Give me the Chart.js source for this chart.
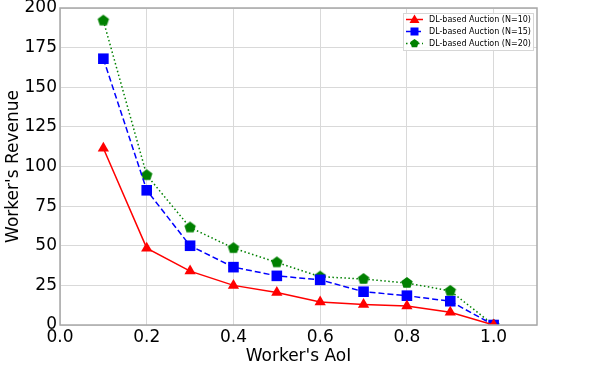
<!DOCTYPE html>
<html>
<head>
<meta charset="utf-8">
<script src="https://cdn.jsdelivr.net/npm/chart.js@4/dist/chart.umd.min.js"></script>
<style>
  html, body { margin: 0; padding: 0; background: #fff; }
  #wrap { width: 598px; height: 370px; }
</style>
</head>
<body>
<div id="wrap"><canvas id="revenueChart" width="598" height="370"></canvas></div>
<script>
// Data
const aoi = [0.1, 0.2, 0.3, 0.4, 0.5, 0.6, 0.7, 0.8, 0.9, 1.0];
const revenueN10 = [111.5, 48.5, 34, 25, 20.5, 14.5, 13, 12, 8, 0];
const revenueN15 = [168, 85, 50, 36.5, 31, 28.5, 21, 18.5, 15, 0];
const revenueN20 = [192, 94.5, 61.5, 48.5, 39.5, 30.5, 29, 26.5, 21.5, 0];
const seriesLabels = ['DL-based Auction (N=10)', 'DL-based Auction (N=15)', 'DL-based Auction (N=20)'];
const xTicks = [0.0, 0.2, 0.4, 0.6, 0.8, 1.0];
const yTicks = [0, 25, 50, 75, 100, 125, 150, 175, 200];

const FONT = "'DejaVu Sans', sans-serif";

// Pentagon marker as an image (Chart.js has no built-in pentagon)
function makePentagon(r, color) {
    const c = document.createElement('canvas');
    c.width = c.height = r * 2 + 2;
    const g = c.getContext('2d');
    g.beginPath();
    for (let i = 0; i < 5; i++) {
        const a = -Math.PI / 2 + i * 2 * Math.PI / 5;
        const px = r + 1 + r * Math.cos(a);
        const py = r + 1 + r * Math.sin(a);
        if (i === 0) g.moveTo(px, py); else g.lineTo(px, py);
    }
    g.closePath();
    g.fillStyle = color;
    g.fill();
    return c;
}
const pentagon = makePentagon(6, '#008000');

function toPoints(values) {
    return aoi.map((x, i) => ({ x: x, y: values[i] }));
}

// Frame + legend box drawn on top
const framePlugin = {
    id: 'frame',
    afterDraw(chart) {
        const ctx = chart.ctx;
        const a = chart.chartArea;
        ctx.save();
        ctx.strokeStyle = '#a8a8a8';
        ctx.lineWidth = 1.5;
        ctx.strokeRect(a.left, a.top, a.right - a.left, a.bottom - a.top);

        // legend
        const bx = 403, by = 13, bw = 130, bh = 37;
        ctx.fillStyle = 'rgba(255,255,255,0.85)';
        ctx.fillRect(bx, by, bw, bh);
        ctx.strokeStyle = '#d6d6d6';
        ctx.lineWidth = 1;
        ctx.strokeRect(bx + 0.5, by + 0.5, bw, bh);
        ctx.font = '8px ' + FONT;
        ctx.textBaseline = 'middle';
        chart.data.datasets.forEach((ds, i) => {
            const y = by + 6.5 + i * 12;
            ctx.strokeStyle = ds.borderColor;
            ctx.lineWidth = 1.5;
            ctx.setLineDash(ds.borderDash || []);
            ctx.beginPath();
            ctx.moveTo(bx + 3, y);
            ctx.lineTo(bx + 20, y);
            ctx.stroke();
            ctx.setLineDash([]);
            ctx.fillStyle = ds.backgroundColor;
            const cx = bx + 11.5;
            if (i === 0) {
                ctx.beginPath();
                ctx.moveTo(cx, y - 5);
                ctx.lineTo(cx + 5, y + 3.5);
                ctx.lineTo(cx - 5, y + 3.5);
                ctx.closePath();
                ctx.fill();
            } else if (i === 1) {
                ctx.fillRect(cx - 4, y - 4, 8, 8);
            } else {
                ctx.drawImage(makePentagon(4.5, '#008000'), cx - 5.5, y - 5.5);
            }
            ctx.fillStyle = '#000';
            ctx.fillText(ds.label, bx + 26, y + 0.5);
        });
        ctx.restore();
    }
};

const ctx = document.getElementById('revenueChart').getContext('2d');
const revenueChart = new Chart(ctx, {
    type: 'line',
    data: {
        datasets: [
            {
                label: seriesLabels[0],
                data: toPoints(revenueN10),
                borderColor: '#ff0000',
                backgroundColor: '#ff0000',
                borderWidth: 1.5,
                pointStyle: 'triangle',
                pointRadius: 6.5,
                pointBorderWidth: 0,
                tension: 0
            },
            {
                label: seriesLabels[1],
                data: toPoints(revenueN15),
                borderColor: '#0000ff',
                backgroundColor: '#0000ff',
                borderWidth: 1.5,
                borderDash: [6, 3],
                pointStyle: 'rect',
                pointRadius: 7.5,
                pointBorderWidth: 0,
                tension: 0
            },
            {
                label: seriesLabels[2],
                data: toPoints(revenueN20),
                borderColor: '#008000',
                backgroundColor: '#008000',
                borderWidth: 1.5,
                borderDash: [1.5, 2.5],
                pointStyle: pentagon,
                pointRadius: 6,
                pointBorderWidth: 0,
                tension: 0
            }
        ]
    },
    options: {
        responsive: false,
        animation: false,
        events: [],
        layout: { padding: { top: 0, right: 61, left: 3, bottom: 3 } },
        plugins: {
            legend: { display: false },
            tooltip: { enabled: false }
        },
        scales: {
            x: {
                type: 'linear',
                min: 0,
                max: 1.1,
                afterBuildTicks: axis => { axis.ticks = xTicks.map(v => ({ value: v })); },
                afterFit: axis => { axis.height = 42; },
                ticks: {
                    color: '#000',
                    font: { family: FONT, size: 17 },
                    padding: 2,
                    maxRotation: 0,
                    callback: v => Number(v).toFixed(1)
                },
                grid: { color: '#d9d9d9', lineWidth: 1, drawTicks: false },
                border: { display: false },
                title: {
                    display: true,
                    text: "Worker's AoI",
                    color: '#000',
                    font: { family: FONT, size: 17 },
                    padding: { top: 0, bottom: 0 }
                }
            },
            y: {
                min: 0,
                max: 200,
                afterBuildTicks: axis => { axis.ticks = yTicks.map(v => ({ value: v })); },
                afterFit: axis => {
                    axis.width = 57;
                    axis.paddingTop = 8;
                    axis.paddingBottom = 0;
                },
                ticks: {
                    color: '#000',
                    font: { family: FONT, size: 17 },
                    padding: 3
                },
                grid: { color: '#d9d9d9', lineWidth: 1, drawTicks: false },
                border: { display: false },
                title: {
                    display: true,
                    text: "Worker's Revenue",
                    color: '#000',
                    font: { family: FONT, size: 17 },
                    padding: { top: 0, bottom: 2 }
                }
            }
        }
    },
    plugins: [framePlugin]
});
</script>
</body>
</html>
